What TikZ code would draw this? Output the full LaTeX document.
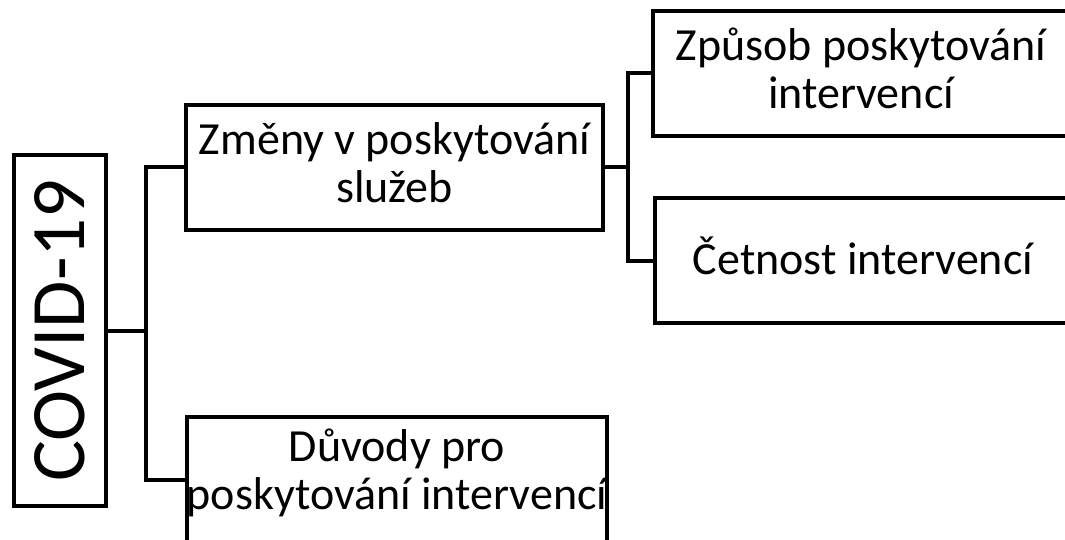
\documentclass[tikz,border=0pt]{standalone}
\usepackage{fontspec}
\setmainfont{Carlito}
\usepackage{tikz}

\begin{document}
\begin{tikzpicture}[x=1pt,y=-1pt,
    box/.style={draw,line width=4pt,inner sep=0pt,minimum width=417pt,minimum height=125pt,text depth=10pt,align=center,font=\fontsize{46}{48}\selectfont},
    link/.style={line width=4pt}]
  \useasboundingbox (0,0) rectangle (1065,540);
  \clip (0,0) rectangle (1065,540);
  \node[draw,line width=4pt,rotate=90,inner sep=0pt,minimum width=351pt,minimum height=92pt,font=\fontsize{77}{88}\selectfont] (covid) at (60,330.5) {COVID-19};
  \node[box] (zmeny) at (394.5,167.5) {Změny v poskytování\\služeb};
  \node[box,text depth=20pt] (duvody) at (397,479.5) {Důvody pro\\poskytování intervencí};
  \node[box] (zpusob) at (861,73.5) {Způsob poskytování\\intervencí};
  \node[box] (cetnost) at (863,260.5) {Četnost intervencí};
  \coordinate (j1) at (146,330.5);
  \coordinate (j2) at (628,167.5);
  \draw[link] (covid.south) -- (j1);
  \draw[link] (zmeny.west) -| (j1) |- (duvody.west);
  \draw[link] (zmeny.east) -- (j2);
  \draw[link] (zpusob.west) -| (j2) |- (cetnost.west);
\end{tikzpicture}
\end{document}
